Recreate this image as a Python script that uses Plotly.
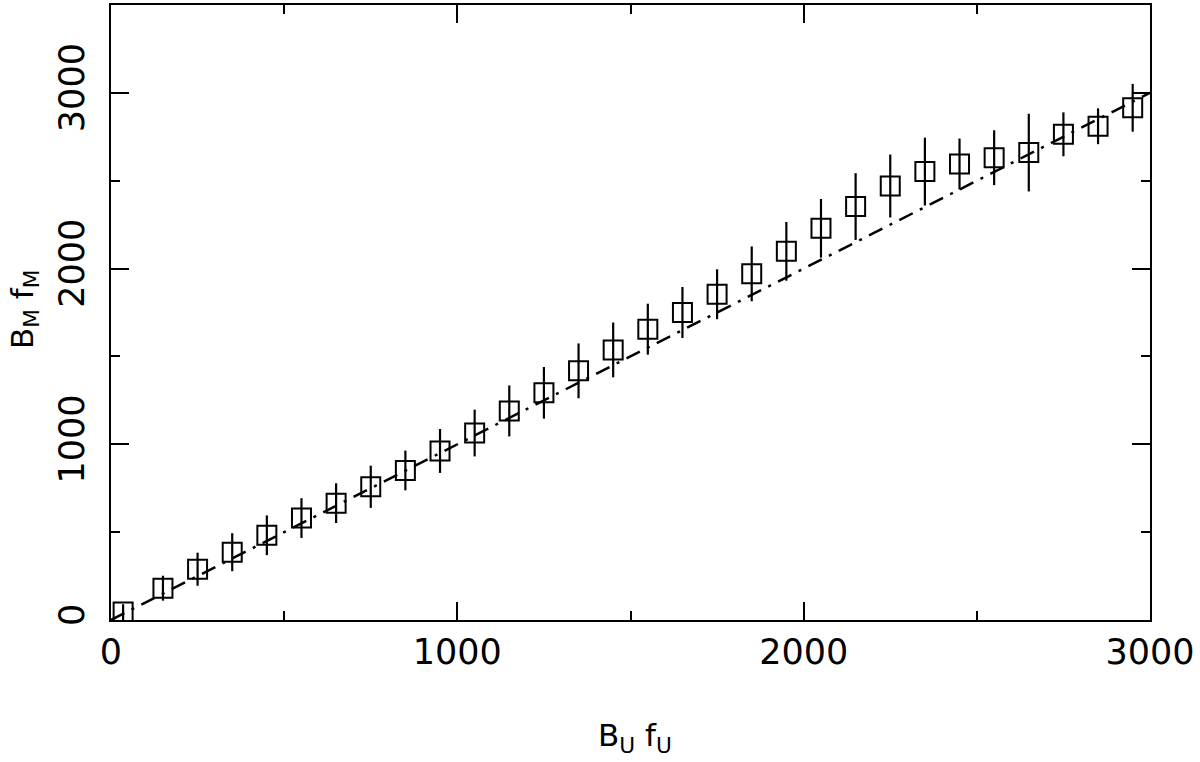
import plotly.graph_objects as go

# Data
bu_fu = [35, 150, 250, 350, 450, 550, 650, 750, 850, 950, 1050, 1150, 1250, 1350, 1450,
         1550, 1650, 1750, 1850, 1950, 2050, 2150, 2250, 2350, 2450, 2550, 2650, 2750, 2850, 2950]
bm_fm = [45, 181, 289, 386, 482, 580, 665, 758, 851, 962, 1064, 1190, 1293, 1418, 1537,
         1655, 1750, 1854, 1970, 2098, 2229, 2353, 2470, 2552, 2595, 2631, 2660, 2764, 2810, 2915]
bm_err = [45, 71, 94, 108, 113, 113, 113, 120, 113, 125, 133, 145, 147, 156, 156,
          145, 145, 142, 156, 167, 167, 190, 179, 193, 145, 156, 221, 125, 102, 136]
line_x = [0, 3000]
line_y = [0, 3000]
x_ticks = [0, 1000, 2000, 3000]
y_ticks = [0, 1000, 2000, 3000]

W, H = 1200, 762
L, R, T, B = 111, 50, 3, 142

fig = go.Figure()
fig.add_trace(go.Scatter(
    x=line_x, y=line_y, mode="lines",
    line=dict(color="black", width=2.5, dash="15px,8px,3px,8px"),
    hoverinfo="skip", showlegend=False))
fig.add_trace(go.Scatter(
    x=bu_fu, y=bm_fm, mode="markers",
    marker=dict(symbol="square-open", size=19, color="black", line=dict(width=2, color="black")),
    error_y=dict(type="data", array=bm_err, visible=True, color="black", thickness=2.2, width=0),
    showlegend=False))

font = dict(family="DejaVu Sans", size=35, color="black")
axis_common = dict(
    showgrid=False, zeroline=False, showline=True, linecolor="black", linewidth=2,
    mirror="allticks", ticks="inside", ticklen=18, tickwidth=2, tickcolor="black",
    tickfont=font,
    minor=dict(dtick=500, ticks="inside", ticklen=9, tickwidth=2, tickcolor="black", showgrid=False),
)

fig.update_layout(
    width=W, height=H,
    margin=dict(l=L, r=R, t=T, b=B, pad=0),
    paper_bgcolor="white", plot_bgcolor="white",
    xaxis=dict(range=[0, 3000], tickvals=x_ticks, ticktext=[str(v) for v in x_ticks],
               ticklabelstandoff=0, **axis_common),
    yaxis=dict(range=[0, 3500], tickvals=y_ticks, ticktext=[str(v) for v in y_ticks],
               tickangle=-90, ticklabelstandoff=11, **axis_common),
    annotations=[
        dict(text="B<sub>U</sub> f<sub>U</sub>", xref="paper", yref="paper",
             x=(635 - L) / (W - L - R), y=(620 - 738) / (620 - T),
             xanchor="center", yanchor="middle", showarrow=False,
             font=dict(family="DejaVu Sans", size=31, color="black")),
        dict(text="B<sub>M</sub> f<sub>M</sub>", xref="paper", yref="paper",
             x=(24 - L) / (W - L - R), y=(620 - 308) / (620 - T),
             xanchor="center", yanchor="middle", textangle=-90, showarrow=False,
             font=dict(family="DejaVu Sans", size=31, color="black")),
    ],
)

fig.write_html("out.html", config={"displayModeBar": False},
               post_script="document.body.style.margin='0';document.body.style.padding='0';")
